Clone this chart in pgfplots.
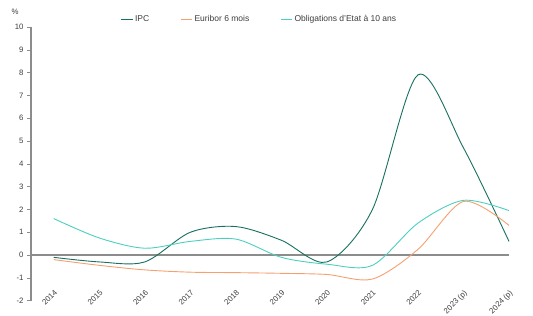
\documentclass[border=0pt]{standalone}
\usepackage{pgfplots}
\pgfplotsset{compat=1.18}
\usepackage{fontspec}
\setmainfont{Liberation Sans}
\definecolor{ipc}{HTML}{17705F}
\definecolor{eur}{HTML}{F5A070}
\definecolor{olo}{HTML}{4CCFC0}
\definecolor{axg}{HTML}{8C8C8C}
\definecolor{txt}{HTML}{3C3C3C}
\begin{document}
\begin{tikzpicture}[x=1pt,y=1pt]
\draw[draw=none] (-31,-10.3) rectangle (502,300.7);
\begin{axis}[
  scale only axis, width=478pt, height=273.7pt,
  xmin=-0.5, xmax=10, ymin=-2, ymax=10,
  axis x line=none,
  axis y line*=left,
  y axis line style={axg, line width=1.2pt, -},
  ytick={-2,...,10},
  ytick style={axg, line width=0.6pt},
  tick align=outside,
  major tick length=4pt,
  yticklabel style={font=\fontsize{7.8}{9}\selectfont, text=txt},
  /pgf/number format/assume math mode=true,
  clip=false,
  legend columns=3,
  legend style={at={(0.478,1.027)}, anchor=center, draw=none, fill=none,
    font=\fontsize{8.5}{10}\selectfont, text=txt,
    /tikz/every even column/.append style={column sep=29pt}},
  legend image code/.code={\draw[#1, line width=0.9pt] (0cm,0cm) -- (0.4cm,0cm);},
]
\draw[axg, line width=1.2pt] (axis cs:-0.5,0) -- (axis cs:10,0);
\addplot[ipc, line width=0.9pt, smooth] coordinates {
(0,-0.1) (1,-0.3) (2,-0.3) (3,1.0) (4,1.25) (5,0.65) (6,-0.3) (7,2.0) (8,7.9) (9,4.7) (10,0.6)};
\addlegendentry{IPC}
\addplot[eur, line width=0.9pt, smooth] coordinates {
(0,-0.2) (1,-0.45) (2,-0.65) (3,-0.75) (4,-0.77) (5,-0.8) (6,-0.85) (7,-1.05) (8,0.25) (9,2.35) (10,1.3)};
\addlegendentry{Euribor 6 mois}
\addplot[olo, line width=0.9pt, smooth] coordinates {
(0,1.6) (1,0.75) (2,0.3) (3,0.6) (4,0.7) (5,-0.1) (6,-0.4) (7,-0.45) (8,1.4) (9,2.4) (10,1.95)};
\addlegendentry{Obligations d'Etat à 10 ans}
\foreach \i/\l in {0/2014,1/2015,2/2016,3/2017,4/2018,5/2019,6/2020,7/2021,8/2022,9/2023 (p),10/2024 (p)}{
  \edef\temp{\noexpand\node[rotate=45, anchor=north east, inner sep=0pt, font=\noexpand\fontsize{7.8}{9}\noexpand\selectfont, text=txt] at (axis cs:\i,-1.5) {\l};}
  \temp
}
\node[anchor=center, font=\fontsize{7.8}{9}\selectfont, text=txt] at (axis cs:-0.85,10.65) {\%};
\end{axis}
\end{tikzpicture}
\end{document}
